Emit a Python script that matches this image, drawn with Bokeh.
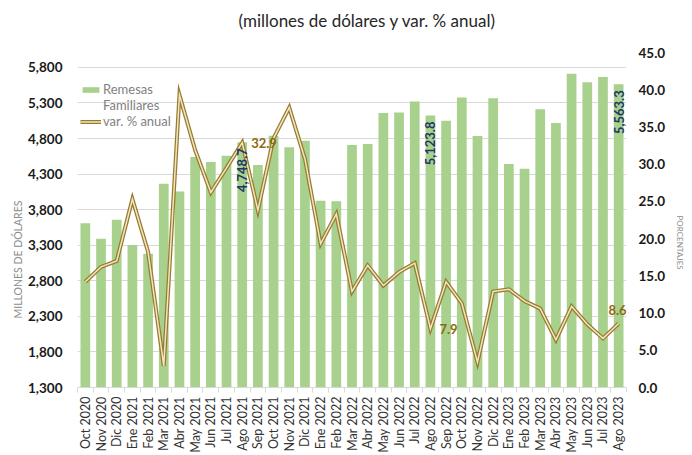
import math
from bokeh.plotting import figure
from bokeh.models import (Range1d, LinearAxis, FixedTicker, NumeralTickFormatter,
                          Legend, LegendItem, LabelSet, ColumnDataSource, Title)
from bokeh.core.properties import value
from bokeh.embed import file_html
from bokeh.resources import INLINE

categories = ["Oct 2020", "Nov 2020", "Dic 2020", "Ene 2021", "Feb 2021", "Mar 2021",
              "Abr 2021", "May 2021", "Jun 2021", "Jul 2021", "Ago 2021", "Sep 2021",
              "Oct 2021", "Nov 2021", "Dic 2021", "Ene 2022", "Feb 2022", "Mar 2022",
              "Abr 2022", "May 2022", "Jun 2022", "Jul 2022", "Ago 2022", "Sep 2022",
              "Oct 2022", "Nov 2022", "Dic 2022", "Ene 2023", "Feb 2023", "Mar 2023",
              "Abr 2023", "May 2023", "Jun 2023", "Jul 2023", "Ago 2023"]

remesas = [3610, 3390, 3660, 3305, 3180, 4165, 4055, 4540, 4470, 4558, 4748.7, 4430,
           4840, 4678, 4770, 3925, 3920, 4710, 4725, 5158, 5165, 5320, 5123.8, 5050,
           5378, 4836, 5366, 4444, 4375, 5213, 5020, 5712, 5590, 5664, 5563.3]

var_anual = [14.2, 16.2, 17.0, 25.3, 18.2, 2.9, 39.3, 31.9, 26.2, 29.5, 32.9, 23.8,
             33.5, 37.6, 30.7, 19.3, 23.3, 12.9, 16.4, 13.7, 15.5, 16.7, 7.9, 14.2,
             11.3, 3.4, 12.9, 13.2, 11.6, 10.6, 6.4, 10.9, 8.5, 6.6, 8.6]

labeled = ["Ago 2021", "Ago 2022", "Ago 2023"]

left_ticks = [1300, 1800, 2300, 2800, 3300, 3800, 4300, 4800, 5300, 5800]
right_ticks = [0, 5, 10, 15, 20, 25, 30, 35, 40, 45]

title_text = "(millones de dólares y var. % anual)"
left_title = "MILLONES DE DÓLARES"
right_title = "PORCENTAJES"

FONT = "Lato"
BAR = "#A9D18E"
LINE_OUT = "#9A7B2C"
LINE_IN = "#EFE6C6"
GRID = "#D9D9D9"
NAVY = "#203864"
GOLD = "#8C6A12"

idx = list(range(len(categories)))
src = ColumnDataSource(dict(x=idx, cat=categories, rem=remesas, pct=var_anual))

lab_i = [categories.index(c) for c in labeled]
lab_data = dict(
    x=lab_i,
    rem=[remesas[i] for i in lab_i],
    rem_txt=["{:,.1f}".format(remesas[i]) for i in lab_i],
    pct=[var_anual[i] for i in lab_i],
    pct_txt=["{:.1f}".format(var_anual[i]) for i in lab_i],
)
lab_src = ColumnDataSource(lab_data)
side_src = ColumnDataSource({k: v[:2] for k, v in lab_data.items()})
top_src = ColumnDataSource({k: v[2:] for k, v in lab_data.items()})

p = figure(width=692, height=455, output_backend="svg", toolbar_location=None,
           x_range=Range1d(-0.5, len(categories) - 0.5),
           y_range=Range1d(1300, 6010),
           min_border_left=77, min_border_right=59, min_border_top=52,
           min_border_bottom=66, outline_line_color=None)
p.extra_y_ranges = {"pct": Range1d(0, 45)}
p.background_fill_color = "white"
p.border_fill_color = "white"

bars = p.vbar(x="x", top="rem", width=0.62, source=src, fill_color=BAR, line_color=None)
l_out = p.line(x="x", y="pct", source=src, y_range_name="pct", line_color=LINE_OUT,
               line_width=4, line_join="miter")
l_in = p.line(x="x", y="pct", source=src, y_range_name="pct", line_color=LINE_IN,
              line_width=1.5, line_join="miter")
dummy = p.line(x=[], y=[], line_alpha=0)

# data labels
p.add_layout(LabelSet(x="x", y="rem", text="rem_txt", source=lab_src, angle=math.pi / 2,
                      text_align="right", text_baseline="middle", y_offset=-6,
                      text_font=value(FONT), text_font_size="13px",
                      text_font_style="bold", text_color=NAVY))
p.add_layout(LabelSet(x="x", y="pct", text="pct_txt", source=side_src, y_range_name="pct",
                      text_align="left", text_baseline="middle", x_offset=9,
                      text_font=value(FONT), text_font_size="13px",
                      text_font_style="bold", text_color=GOLD))
p.add_layout(LabelSet(x="x", y="pct", text="pct_txt", source=top_src, y_range_name="pct",
                      text_align="right", text_baseline="bottom", x_offset=8, y_offset=8,
                      text_font=value(FONT), text_font_size="13px",
                      text_font_style="bold", text_color=GOLD))

# axes
xa = p.xaxis[0]
xa.ticker = FixedTicker(ticks=idx, minor_ticks=[i - 0.5 for i in range(len(idx) + 1)])
xa.major_label_overrides = {i: c for i, c in zip(idx, categories)}
xa.major_label_orientation = math.pi / 2
xa.major_tick_out = 0
xa.major_tick_in = 0
xa.minor_tick_out = 5
xa.minor_tick_in = 0
xa.minor_tick_line_color = GRID
xa.axis_line_color = GRID
xa.major_label_standoff = 4
xa.major_label_text_font = FONT
xa.major_label_text_font_size = "12.5px"
xa.major_label_text_color = "#333333"

ya = p.yaxis[0]
ya.ticker = FixedTicker(ticks=left_ticks)
ya.formatter = NumeralTickFormatter(format="0,0")
ya.axis_line_color = None
ya.major_tick_out = 0
ya.major_tick_in = 0
ya.minor_tick_line_color = None
ya.major_label_standoff = 15
ya.major_label_text_font = FONT
ya.major_label_text_font_size = "13.5px"
ya.major_label_text_font_style = "bold"
ya.major_label_text_color = "#1a1a1a"

ra = LinearAxis(y_range_name="pct", ticker=FixedTicker(ticks=right_ticks),
                formatter=NumeralTickFormatter(format="0.0"))
ra.axis_line_color = None
ra.major_tick_out = 0
ra.major_tick_in = 0
ra.minor_tick_line_color = None
ra.major_label_standoff = 12
ra.major_label_text_font = FONT
ra.major_label_text_font_size = "13.5px"
ra.major_label_text_font_style = "bold"
ra.major_label_text_color = "#1a1a1a"
p.add_layout(ra, "right")

p.xgrid.grid_line_color = None
p.ygrid.ticker = FixedTicker(ticks=left_ticks)
p.ygrid.grid_line_color = GRID
p.ygrid.grid_line_width = 1

# titles (a blank spacer title keeps the main title higher above the frame)
p.add_layout(Title(text=" ", standoff=0, text_font=FONT, text_font_size="12px"), "above")
p.add_layout(Title(text=title_text, align="left", offset=161, standoff=10,
                   text_font=FONT, text_font_size="17px", text_font_style="normal",
                   text_color="#262626"), "above")
p.add_layout(Title(text=left_title, align="left", offset=69, standoff=4,
                   text_font=FONT, text_font_size="10.5px", text_font_style="normal",
                   text_color="#8C8C8C"), "left")
p.add_layout(Title(text=right_title, align="left", offset=163, standoff=12,
                   text_font=FONT, text_font_size="8px", text_font_style="normal",
                   text_color="#8C8C8C"), "right")

legend = Legend(items=[LegendItem(label="Remesas", renderers=[bars]),
                       LegendItem(label="Familiares", renderers=[dummy]),
                       LegendItem(label="var. % anual", renderers=[l_out, l_in])],
                location=(3, 258), orientation="vertical",
                glyph_width=21, glyph_height=7, label_height=15, spacing=0,
                padding=0, margin=0, label_standoff=2,
                label_text_font=FONT, label_text_font_size="13px",
                label_text_color="#7F7F7F", border_line_color=None,
                background_fill_alpha=0)
p.add_layout(legend)

open("out.html", "w").write(file_html(p, INLINE))
